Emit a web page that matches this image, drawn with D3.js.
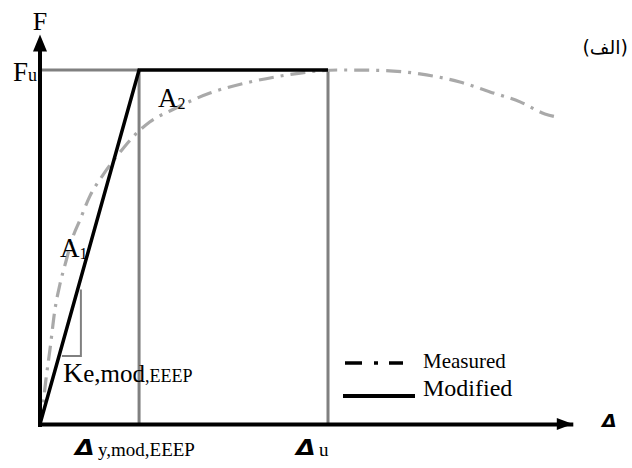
<!DOCTYPE html>
<html>
<head>
<meta charset="utf-8">
<script src="https://cdn.jsdelivr.net/npm/d3@7"></script>
<style>
  html, body { margin: 0; padding: 0; background: #fff; }
  svg { display: block; }
  .serif { font-family: "Liberation Serif", "Times New Roman", serif; fill: #000; }
  .delta { font-family: "DejaVu Sans", "Liberation Sans", sans-serif; font-weight: bold; font-style: italic; fill: #000; }
</style>
</head>
<body>
<svg id="chart" width="632" height="468"></svg>
<script>
// ---- data (normalised: Fu = 1, Δu = 1) ----
const deltaY = 0.344;          // Δy,mod,EEEP
const deltaU = 1.0;            // Δu
const Fu = 1.0;
const modifiedX = [0, deltaY, deltaU];
const modifiedY = [0, Fu, Fu];
const measuredX = [0, 0.0104, 0.0208, 0.0347, 0.052, 0.069, 0.090, 0.111, 0.139, 0.174, 0.219, 0.285, 0.323, 0.382, 0.458, 0.590, 0.729, 0.858, 0.962, 1.042, 1.181, 1.319, 1.458, 1.5625, 1.667, 1.753, 1.806];
const measuredY = [0, 0.056, 0.127, 0.211, 0.324, 0.394, 0.459, 0.521, 0.577, 0.645, 0.704, 0.775, 0.811, 0.854, 0.887, 0.935, 0.966, 0.986, 0.997, 1.0, 0.999, 0.989, 0.966, 0.938, 0.910, 0.876, 0.865];
const slopeX = [0.076, 0.142, 0.142];
const slopeY = [0.192, 0.192, 0.380];
const legendLabels = ["Measured", "Modified"];
const xMax = 1.85, yMax = 1.10;

// ---- scales ----
const svg = d3.select("#chart");
const x = d3.scaleLinear().domain([0, deltaU]).range([40, 328]);
const y = d3.scaleLinear().domain([0, Fu]).range([424, 70]);

const zip = (xs, ys) => xs.map((v, i) => [v, ys[i]]);
const line = d3.line().x(d => x(d[0])).y(d => y(d[1]));

// construction lines (grey)
const grey = "#808080";
svg.append("line").attr("x1", x(0)).attr("x2", x(deltaY)).attr("y1", y(Fu)).attr("y2", y(Fu))
  .attr("stroke", grey).attr("stroke-width", 3);
[deltaY, deltaU].forEach(v => {
  svg.append("line").attr("x1", x(v)).attr("x2", x(v)).attr("y1", y(Fu)).attr("y2", y(0))
    .attr("stroke", grey).attr("stroke-width", 3);
});
svg.append("path").attr("d", line(zip(slopeX, slopeY))).attr("fill", "none")
  .attr("stroke", grey).attr("stroke-width", 2);

// measured curve
svg.append("path")
  .attr("d", line.curve(d3.curveMonotoneX)(zip(measuredX, measuredY)))
  .attr("fill", "none").attr("stroke", "#a9a9a9").attr("stroke-width", 3.2)
  .attr("stroke-dasharray", "15,7,3,7");
line.curve(d3.curveLinear);

// modified (EEEP) line
svg.append("path").attr("d", line(zip(modifiedX, modifiedY))).attr("fill", "none")
  .attr("stroke", "#000").attr("stroke-width", 3.5).attr("stroke-linejoin", "miter");

// axes
const xAxisScale = d3.scaleLinear().domain([0, xMax]).range([x(0), x(xMax)]);
const yAxisScale = d3.scaleLinear().domain([0, yMax]).range([y(0), y(yMax)]);
svg.append("g").attr("transform", `translate(0,${y(0)})`)
  .call(d3.axisBottom(xAxisScale).tickValues([]).tickSizeOuter(0))
  .call(g => g.select(".domain").attr("stroke", "#000").attr("stroke-width", 4));
svg.append("g").attr("transform", `translate(${x(0)},0)`)
  .call(d3.axisLeft(yAxisScale).tickValues([]).tickSizeOuter(0))
  .call(g => g.select(".domain").attr("stroke", "#000").attr("stroke-width", 4).attr("d", `M0,${y(0)+3}V${y(yMax)+12}`));
// arrow heads
const xe = x(xMax), ye = y(0);
svg.append("path").attr("d", `M${xe},${ye} L${xe-16},${ye-6} L${xe-16},${ye+6} Z`).attr("fill", "#000");
const ya = y(yMax), xa = x(0);
svg.append("path").attr("d", `M${xa},${ya} L${xa-7},${ya+17} L${xa+7},${ya+17} Z`).attr("fill", "#000");

// ---- labels ----
function subLabel(px, py, parts) {
  const t = svg.append("text").attr("class", "serif").attr("x", px).attr("y", py);
  parts.forEach(p => t.append("tspan").attr("font-size", p[1]).attr("dy", p[2] || 0).text(p[0]));
  return t;
}
subLabel(x(0), 30, [["F", 26]]).attr("text-anchor", "middle");
subLabel(13, 81, [["F", 27], ["u", 18]]);
subLabel(60, 257, [["A", 27], ["1", 16, 2]]);
subLabel(158, 107, [["A", 27], ["2", 16, 2]]);
subLabel(63, 382, [["K", 28], ["e,mod", 25], [",EEEP", 18]]);

function deltaGlyph(px, py, size, sx) {
  svg.append("text").attr("class", "delta").attr("font-size", size)
    .attr("transform", `translate(${px},${py}) scale(${sx},1)`).text("Δ");
}
deltaGlyph(x(0) + 35, 455, 22, 1.15);
subLabel(x(0) + 58, 456, [["y,mod,EEEP", 19]]);
deltaGlyph(x(deltaU) - 32, 455, 22, 1.15);
subLabel(x(deltaU) - 9, 456, [["u", 19]]);
deltaGlyph(602, 427, 18, 1.05);

// legend
svg.append("line").attr("x1", 345).attr("x2", 403).attr("y1", 363).attr("y2", 363)
  .attr("stroke", "#000").attr("stroke-width", 3.5).attr("stroke-dasharray", "17,12,4,11,15");
svg.append("text").attr("class", "serif").attr("x", 423).attr("y", 368).attr("font-size", 21).text(legendLabels[0]);
svg.append("line").attr("x1", 343).attr("x2", 415).attr("y1", 396).attr("y2", 396)
  .attr("stroke", "#000").attr("stroke-width", 4);
svg.append("text").attr("class", "serif").attr("x", 423).attr("y", 396).attr("font-size", 24).text(legendLabels[1]);

// panel tag
svg.append("text").attr("x", 628).attr("y", 54).attr("text-anchor", "end")
  .attr("font-family", "'DejaVu Sans', 'Noto Sans', sans-serif").attr("font-size", 19).text("(الف)");
</script>
</body>
</html>
